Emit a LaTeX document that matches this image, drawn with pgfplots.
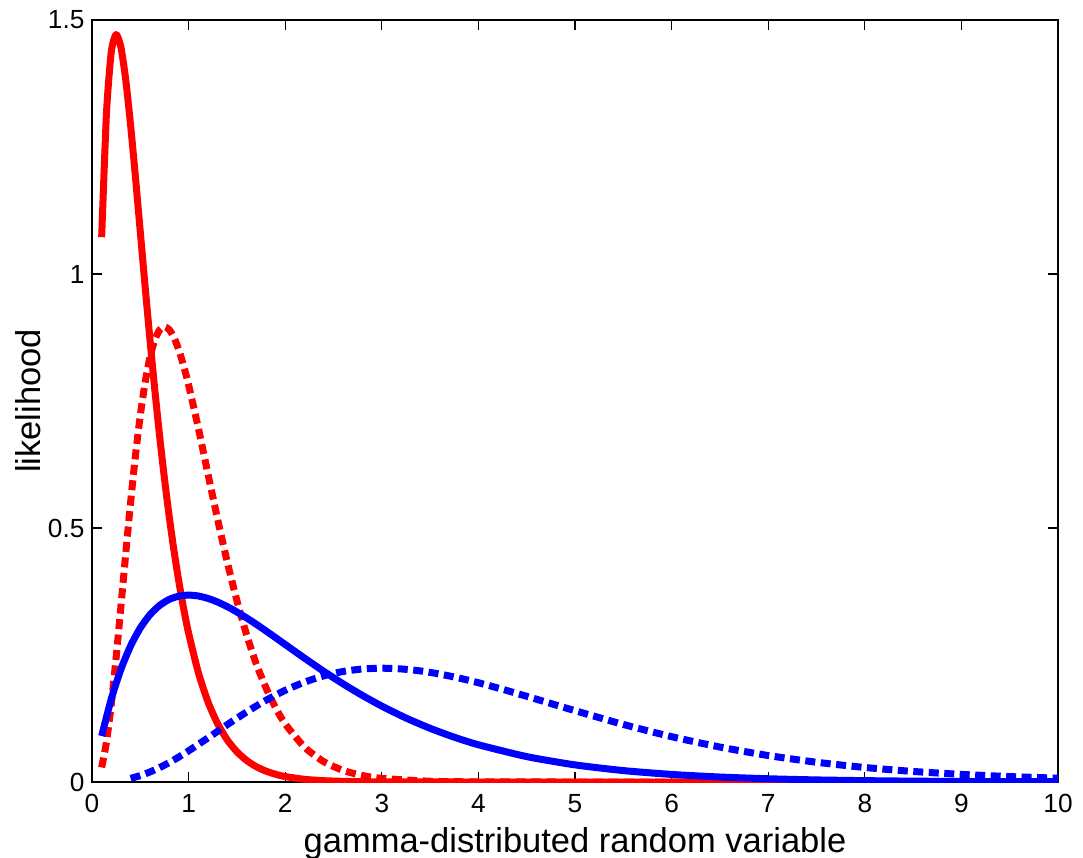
\documentclass[border=0pt]{standalone}
\usepackage{fontspec}
\setmainfont{Liberation Sans}
\usepackage{pgfplots}
\pgfplotsset{compat=1.18}

\definecolor{mred}{rgb}{1,0,0}
\definecolor{mblue}{rgb}{0,0,1}

\begin{document}
\begin{tikzpicture}
\useasboundingbox (-36.8pt,-30pt) rectangle (396.4pt,312.8pt);
\begin{axis}[
  at={(0pt,0pt)}, anchor=south west,
  scale only axis, width=386.4pt, height=304.8pt,
  xmin=0, xmax=10, ymin=0, ymax=1.5,
  xtick={0,1,...,10}, ytick={0,0.5,1,1.5},
  tick align=inside, major tick length=4pt,
  axis line style={line width=0.5pt}, tick style={line width=0.5pt,black},
  /pgf/number format/assume math mode=true,
  tick label style={font=\fontsize{10.5}{12}\selectfont},
  xticklabel style={anchor=base, yshift=-12pt},
  yticklabel style={xshift=0.5pt},
  label style={font=\fontsize{13.8}{16}\selectfont},
  xlabel={gamma-distributed random variable},
  ylabel={likelihood},
  xlabel style={at={(axis description cs:0.5,-0.0919)}, anchor=base},
  ylabel style={at={(axis description cs:-0.0538,0.5)}, anchor=base},
  every axis plot/.append style={line width=2.8pt, line join=round, smooth, tension=0.4},
]
% red solid
\addplot[mred] coordinates {
(0.10,1.0725)(0.15,1.3171)(0.20,1.4379)(0.25,1.4715)(0.30,1.4457)(0.35,1.3810)
(0.40,1.2922)(0.45,1.1902)(0.50,1.0827)(0.55,0.9750)(0.60,0.8709)(0.65,0.7724)
(0.70,0.6811)(0.75,0.5975)(0.80,0.5217)(0.85,0.4538)(0.90,0.3934)(0.95,0.3400)
(1.00,0.2931)(1.10,0.2161)(1.20,0.1580)(1.30,0.1148)(1.40,0.0829)(1.50,0.0595)
(1.60,0.0425)(1.70,0.0302)(1.80,0.0215)(1.90,0.0152)(2.00,0.0107)(2.20,0.0053)
(2.40,0.0026)(2.60,0.0013)(2.80,0.0006)(3.00,0.0003)(4.00,0.0000)(10.00,0.0000)};
% red dashed
\addplot[mred, dash pattern=on 4pt off 2.2pt] coordinates {
(0.10,0.0286)(0.15,0.0790)(0.20,0.1534)(0.25,0.2453)(0.30,0.3470)(0.35,0.4511)
(0.40,0.5513)(0.45,0.6427)(0.50,0.7218)(0.55,0.7865)(0.60,0.8361)(0.65,0.8703)
(0.70,0.8899)(0.75,0.8962)(0.80,0.8904)(0.85,0.8744)(0.90,0.8498)(0.95,0.8183)
(1.00,0.7815)(1.10,0.6974)(1.20,0.6068)(1.30,0.5174)(1.40,0.4332)(1.50,0.3571)
(1.60,0.2901)(1.70,0.2327)(1.80,0.1859)(1.90,0.1463)(2.00,0.1144)(2.20,0.0686)
(2.40,0.0399)(2.60,0.0228)(2.80,0.0127)(3.00,0.0071)(3.50,0.0015)(4.00,0.0003)
(5.00,0.0000)(10.00,0.0000)};
% blue solid
\addplot[mblue] coordinates {
(0.1,0.0905)(0.2,0.1637)(0.3,0.2222)(0.4,0.2681)(0.5,0.3033)(0.6,0.3293)
(0.7,0.3476)(0.8,0.3595)(0.9,0.3659)(1.0,0.3679)(1.1,0.3662)(1.2,0.3614)
(1.3,0.3543)(1.4,0.3452)(1.5,0.3347)(1.6,0.3230)(1.7,0.3106)(1.8,0.2975)
(1.9,0.2842)(2.0,0.2707)(2.2,0.2438)(2.4,0.2177)(2.6,0.1931)(2.8,0.1703)
(3.0,0.1494)(3.25,0.1260)(3.5,0.1057)(3.75,0.0882)(4.0,0.0733)(4.5,0.0500)
(5.0,0.0337)(5.5,0.0225)(6.0,0.0149)(6.5,0.0098)(7.0,0.0064)(7.5,0.0041)
(8.0,0.0027)(8.5,0.0017)(9.0,0.0011)(9.5,0.0007)(10.0,0.0005)};
% blue dashed
\addplot[mblue, dash pattern=on 4pt off 2.2pt] coordinates {
(0.4,0.0072)(0.5,0.0126)(0.6,0.0198)(0.7,0.0284)(0.8,0.0383)(0.9,0.0494)
(1.0,0.0613)(1.2,0.0867)(1.4,0.1128)(1.6,0.1378)(1.8,0.1607)(2.0,0.1805)
(2.2,0.1966)(2.4,0.2090)(2.6,0.2176)(2.8,0.2225)(3.0,0.2240)(3.2,0.2226)
(3.4,0.2186)(3.6,0.2125)(3.8,0.2046)(4.0,0.1954)(4.25,0.1825)(4.5,0.1687)
(4.75,0.1545)(5.0,0.1404)(5.5,0.1133)(6.0,0.0892)(6.5,0.0688)(7.0,0.0521)
(7.5,0.0389)(8.0,0.0286)(8.5,0.0208)(9.0,0.0150)(9.5,0.0107)(10.0,0.0076)};
\end{axis}
\end{tikzpicture}
\end{document}
